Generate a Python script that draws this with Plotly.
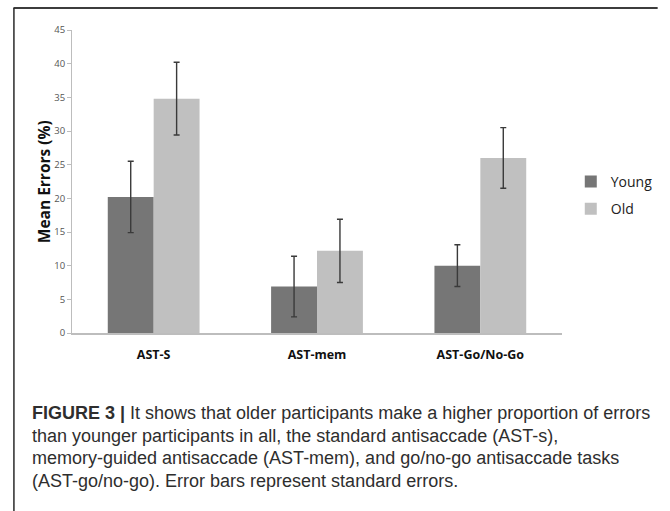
import plotly.graph_objects as go

# Task categories and group means (%) with standard errors
tasks = ["AST-S", "AST-mem", "AST-Go/No-Go"]
young_mean = [20.2, 6.9, 10.0]
young_se = [5.3, 4.5, 3.1]
old_mean = [34.8, 12.2, 26.0]
old_se = [5.4, 4.7, 4.5]

y_ticks = [0, 5, 10, 15, 20, 25, 30, 35, 40, 45]

caption_lines = [
    "<b>FIGURE 3 |</b> It shows that older participants make a higher proportion of errors",
    "than younger participants in all, the standard antisaccade (AST-s),",
    "memory-guided antisaccade (AST-mem), and go/no-go antisaccade tasks",
    "(AST-go/no-go). Error bars represent standard errors.",
]

W, H = 670, 511
L, R, T, B = 72, 96, 30, 178
pw, ph = W - L - R, H - T - B


def px_x(px):
    return (px - L) / pw


def px_y(py):
    return (H - B - py) / ph


err_style = dict(type="data", visible=True, color="#3a3a3a", thickness=1.4, width=3)

fig = go.Figure()
fig.add_trace(go.Bar(
    x=tasks, y=young_mean, name="Young", legendgroup="young",
    marker=dict(color="#767676", line=dict(width=0)),
    error_y=dict(array=young_se, **err_style),
))
fig.add_trace(go.Bar(
    x=tasks, y=old_mean, name="Old", legendgroup="old",
    marker=dict(color="#c0c0c0", line=dict(width=0)),
    error_y=dict(array=old_se, **err_style),
))

annotations = [
    dict(text="<b>Mean Errors (%)</b>", x=px_x(43), y=0.5, xref="paper", yref="paper",
         textangle=-90, showarrow=False, xanchor="center", yanchor="middle",
         font=dict(family="Open Sans, sans-serif", size=15.5, color="#111")),
]
for i, line in enumerate(caption_lines):
    annotations.append(dict(
        text=line, x=px_x(29), y=px_y(413 + i * 22.7), xref="paper", yref="paper",
        showarrow=False, xanchor="left", yanchor="middle", align="left",
        font=dict(family="Liberation Sans, Arial, sans-serif", size=18, color="#2e2e2e"),
    ))

shapes = [
    # figure frame: top and left rules
    dict(type="line", xref="paper", yref="paper", x0=px_x(12), x1=px_x(W + 2),
         y0=px_y(8), y1=px_y(8), line=dict(color="#3c3c3c", width=2)),
    dict(type="line", xref="paper", yref="paper", x0=px_x(12.5), x1=px_x(12.5),
         y0=px_y(8), y1=px_y(H + 2), line=dict(color="#2a2a2a", width=1.5)),
]

fig.update_layout(
    width=W, height=H,
    margin=dict(l=L, r=R, t=T, b=B, pad=0),
    paper_bgcolor="white", plot_bgcolor="white",
    barmode="group", bargap=0.438, bargroupgap=0,
    showlegend=True,
    legend=dict(x=px_x(583), y=px_y(166), xanchor="left", yanchor="top",
                font=dict(family="Open Sans, sans-serif", size=14, color="#222"),
                tracegroupgap=6, bgcolor="rgba(0,0,0,0)", itemwidth=30),
    annotations=annotations,
    shapes=shapes,
    font=dict(family="Open Sans, sans-serif"),
)
fig.update_xaxes(
    showline=True, linecolor="#bdbdbd", linewidth=1.5, ticks="",
    tickfont=dict(family="Open Sans, sans-serif", size=12.5, color="#111", weight="bold"),
    ticklabelstandoff=9, showgrid=False,
)
fig.update_yaxes(
    range=[0, 45], tickvals=y_ticks, showline=True, linecolor="#bdbdbd", linewidth=1,
    ticks="outside", ticklen=4, tickcolor="#bdbdbd", showgrid=False, zeroline=False,
    tickfont=dict(family="Open Sans, sans-serif", size=9.5, color="#555"),
)

fig.write_html("out.html")
